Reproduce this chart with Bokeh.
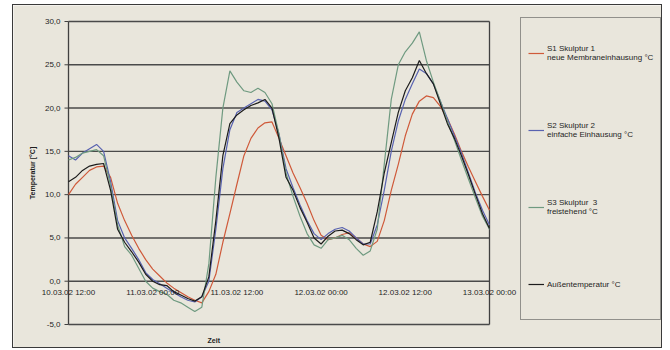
import math
from bokeh.plotting import figure
from bokeh.models import Range1d, Legend, LegendItem, ColumnDataSource
from bokeh.embed import file_html
from bokeh.resources import INLINE
from bokeh.core.properties import value

# hours after 10.03.02 12:00 (hourly readings up to 13.03.02 00:00)
hours = list(range(0, 61))

s1_membran = [10.0, 11.2, 12.0, 12.8, 13.2, 13.3, 12.0, 9.0, 7.0, 5.3, 3.8, 2.5, 1.4, 0.6, -0.2, -0.8,
              -1.3, -1.8, -2.2, -2.5, -1.2, 0.8, 4.5, 7.8, 11.2, 14.5, 16.5, 17.7, 18.3, 18.4, 16.5,
              14.5, 12.5, 10.8, 9.0, 7.0, 5.3, 4.8, 5.0, 5.4, 5.6, 5.0, 4.3, 4.0, 4.6, 7.0, 10.5,
              13.5, 16.8, 19.3, 20.8, 21.4, 21.2, 20.2, 18.8, 17.0, 15.0, 13.2, 11.5, 9.8, 8.2]
s2_einfach = [14.5, 14.0, 14.8, 15.3, 15.8, 15.0, 11.5, 7.0, 5.0, 3.8, 2.5, 1.0, 0.2, -0.3, -0.8, -1.3,
              -1.8, -2.2, -2.4, -1.8, 0.0, 6.0, 13.0, 17.5, 19.5, 20.0, 20.5, 21.0, 20.8, 19.8, 17.0,
              13.0, 10.8, 8.8, 7.0, 5.5, 4.8, 5.5, 6.0, 6.2, 5.8, 5.0, 4.3, 4.3, 6.5, 10.5, 15.0,
              18.5, 21.0, 22.8, 24.5, 24.0, 22.8, 20.8, 18.8, 16.8, 14.8, 12.5, 10.2, 8.2, 6.5]
s3_frei = [14.0, 14.3, 14.8, 15.0, 15.2, 14.5, 11.0, 6.5, 4.0, 3.0, 1.5, 0.0, -0.8, -1.2, -1.5, -2.2,
           -2.5, -3.0, -3.5, -3.0, 2.0, 12.0, 20.0, 24.3, 23.0, 22.0, 21.8, 22.3, 21.8, 20.5, 17.0,
           12.5, 9.8, 7.5, 5.5, 4.2, 3.8, 4.8, 5.0, 5.3, 4.8, 3.8, 3.0, 3.5, 6.0, 13.5, 21.0,
           25.0, 26.5, 27.5, 28.8, 25.5, 23.0, 20.8, 18.5, 16.3, 14.0, 11.8, 9.6, 7.5, 6.0]
aussen = [11.5, 12.0, 12.8, 13.3, 13.5, 13.6, 10.5, 6.0, 4.5, 3.4, 2.2, 0.8, 0.0, -0.4, -0.5, -1.2,
          -1.6, -2.0, -2.3, -1.8, 0.5, 7.0, 14.5, 18.2, 19.2, 19.8, 20.3, 20.6, 21.0, 20.0, 16.5,
          12.0, 10.5, 8.5, 6.8, 5.0, 4.3, 5.2, 5.8, 5.9, 5.5, 4.8, 4.2, 4.5, 8.0, 12.5, 16.0,
          19.5, 22.0, 23.5, 25.5, 24.0, 22.8, 20.5, 18.2, 16.5, 14.5, 12.3, 10.0, 7.8, 6.1]

series_labels = ["S1 Skulptur 1\nneue Membraneinhausung °C",
                 "S2 Skulptur 2\neinfache Einhausung °C",
                 "S3 Skulptur  3\nfreistehend °C",
                 "Außentemperatur °C"]
series_colors = ["#cf5a3a", "#5862b0", "#6f9a80", "#1c1c1c"]

y_ticks = [-5, 0, 5, 10, 15, 20, 25, 30]
y_tick_labels = ["-5,0", "0,0", "5,0", "10,0", "15,0", "20,0", "25,0", "30,0"]
x_ticks = [0, 12, 24, 36, 48, 60]
x_tick_labels = ["10.03.02 12:00", "11.03.02 00:00", "11.03.02 12:00",
                 "12.03.02 00:00", "12.03.02 12:00", "13.03.02 00:00"]
y_title = "Temperatur [°C]"
x_title = "Zeit"
x_title_pos = 20.7

BG = "#e9e6dc"
INK = "#1e1e1e"
GRID = "#4a4a4a"
FONT = "Liberation Sans"

# layout (canvas pixels): where the plot area sits inside the chart
W, H = 650, 344
FRAME_L, FRAME_R, FRAME_T, FRAME_B = 55, 476, 16, 319
px_x = (FRAME_R - FRAME_L) / (x_ticks[-1] - x_ticks[0])
px_y = (FRAME_B - FRAME_T) / (y_ticks[-1] - y_ticks[0])
x_start = x_ticks[0] - FRAME_L / px_x
x_end = x_ticks[-1] + (W - FRAME_R) / px_x
y_end = y_ticks[-1] + FRAME_T / px_y
y_start = y_ticks[0] - (H - FRAME_B) / px_y
tick_len = 4 / px_x

p = figure(width=W, height=H, output_backend="svg", toolbar_location=None,
           x_axis_location=None, y_axis_location=None,
           x_range=Range1d(start=x_start, end=x_end), y_range=Range1d(start=y_start, end=y_end),
           min_border=0, min_border_left=0, min_border_right=0, min_border_top=0, min_border_bottom=0)
p.background_fill_color = BG
p.border_fill_color = BG
p.outline_line_color = None
p.grid.visible = False
p.styles = {"border": "1px solid #3a3a3a", "margin-left": "12px", "margin-top": "4px"}

n = len(y_ticks)
x0, x1 = x_ticks[0], x_ticks[-1]
y0, y1 = y_ticks[0], y_ticks[-1]

# horizontal gridlines (the -5 and 30 lines close the plot area)
p.segment(x0=[x0] * n, y0=y_ticks, x1=[x1] * n, y1=y_ticks, line_color=GRID, line_width=1.4)
# left axis line and right border of the plot area
p.segment(x0=[x0, x1], y0=[y0, y0], x1=[x0, x1], y1=[y1, y1], line_color="#404040", line_width=1.3)
# y tick marks
p.segment(x0=[x0] * n, y0=y_ticks, x1=[x0 - tick_len] * n, y1=y_ticks, line_color="#404040", line_width=1)

# y tick labels and y title
p.text(x=[x0] * n, y=y_ticks, text=y_tick_labels, text_align="right", text_baseline="middle",
       x_offset=-8, text_font=value(FONT), text_font_size="8px", text_color=INK)
p.text(x=[x0], y=[(y0 + y1) / 2], text=[y_title], angle=math.pi / 2, text_align="center",
       text_baseline="middle", x_offset=-36, text_font=value(FONT), text_font_size="7px",
       text_font_style="bold", text_color=INK)

src = ColumnDataSource(dict(t=hours, s1=s1_membran, s2=s2_einfach, s3=s3_frei, a=aussen))
renderers = []
for col, c in zip(["s1", "s2", "s3", "a"], series_colors):
    renderers.append(p.line(x="t", y=col, source=src, line_color=c, line_width=1.2))

# time labels sitting on the 0-line, and x title
p.text(x=x_ticks, y=[0] * len(x_ticks), text=x_tick_labels, text_align="center", text_baseline="top",
       y_offset=7, text_font=value(FONT), text_font_size="8px", text_color=INK)
p.text(x=[x_title_pos], y=[y0], text=[x_title], text_align="center", text_baseline="middle",
       y_offset=16, text_font=value(FONT), text_font_size="7px", text_font_style="bold", text_color=INK)

# legend box to the right of the plot area (screen offset from the canvas' bottom-left)
legend = Legend(items=[LegendItem(label=l, renderers=[r]) for l, r in zip(series_labels, renderers)],
                location=(507, 29), margin=0, padding=7, spacing=21,
                glyph_width=16, glyph_height=56, label_height=56, label_standoff=3,
                label_text_font=FONT, label_text_font_size="8px", label_text_color=INK,
                background_fill_color=BG, background_fill_alpha=1.0,
                border_line_color="#3a3a3a", border_line_width=1.2)
p.add_layout(legend)

open("out.html", "w").write(file_html(p, INLINE))
